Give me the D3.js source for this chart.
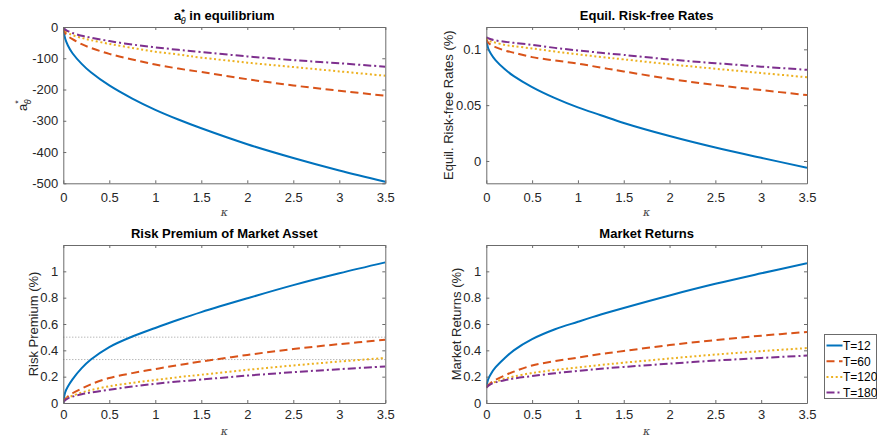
<!DOCTYPE html>
<html>
<head>
<meta charset="utf-8">
<script src="https://cdn.jsdelivr.net/npm/d3@7"></script>
<style>
  body { margin: 0; background: #fff; }
  text { font-family: "Liberation Sans", Arial, sans-serif; }
</style>
</head>
<body>
<div id="chart"></div>
<script>
var width = 877,
    height = 442;

// kappa grid (x values shared by every panel)
var kappa = [0, 0.02, 0.05, 0.1, 0.2, 0.3, 0.5, 0.75, 1, 1.25, 1.5, 2, 2.5, 3, 3.5];
var xTicks = [0, 0.5, 1, 1.5, 2, 2.5, 3, 3.5];

var seriesNames = ["T=12", "T=60", "T=120", "T=180"];

// a*_theta in equilibrium
var aStar12  = [0, -37, -59, -84, -118, -145, -187, -229, -265, -296, -324, -375, -419, -459, -495];
var aStar60  = [0, -19, -29, -39, -55, -67, -86, -104, -120, -133, -144, -167, -187, -204, -220];
var aStar120 = [0, -10, -18, -26, -35, -42, -54, -67, -79, -88, -98, -114, -128, -142, -156];
var aStar180 = [0, -8, -13, -19, -28, -34, -45, -56, -65, -73, -80, -94, -106, -116, -127];

// equilibrium risk-free rates (%)
var rf12  = [0.110, 0.101, 0.096, 0.0903, 0.0823, 0.076, 0.0662, 0.0563, 0.048, 0.041, 0.034, 0.0223, 0.012, 0.0028, -0.006];
var rf60  = [0.110, 0.106, 0.104, 0.102, 0.099, 0.097, 0.093, 0.090, 0.0872, 0.0836, 0.0802, 0.0736, 0.068, 0.0635, 0.059];
var rf120 = [0.110, 0.108, 0.107, 0.106, 0.104, 0.1028, 0.1008, 0.098, 0.0955, 0.0932, 0.091, 0.0866, 0.0826, 0.0788, 0.075];
var rf180 = [0.111, 0.110, 0.109, 0.108, 0.1068, 0.1058, 0.104, 0.1013, 0.099, 0.0969, 0.095, 0.0909, 0.0876, 0.0845, 0.0816];

// risk premium of market asset (%)
var rp12  = [0, 0.08, 0.125, 0.18, 0.265, 0.33, 0.425, 0.505, 0.57, 0.632, 0.69, 0.795, 0.895, 0.985, 1.068];
var rp60  = [0.01, 0.03, 0.05, 0.074, 0.11, 0.142, 0.19, 0.227, 0.258, 0.288, 0.315, 0.365, 0.41, 0.447, 0.48];
var rp120 = [0.01, 0.025, 0.04, 0.055, 0.08, 0.098, 0.127, 0.153, 0.175, 0.196, 0.215, 0.252, 0.285, 0.315, 0.342];
var rp180 = [0.005, 0.02, 0.035, 0.048, 0.066, 0.08, 0.101, 0.125, 0.146, 0.163, 0.178, 0.208, 0.234, 0.257, 0.278];
var rpRefLines = [0.5, 0.33];

// market returns (%)
var mr12  = [0.12, 0.18, 0.221, 0.27, 0.34, 0.40, 0.485, 0.56, 0.617, 0.672, 0.722, 0.817, 0.905, 0.985, 1.062];
var mr60  = [0.12, 0.136, 0.154, 0.176, 0.209, 0.238, 0.285, 0.318, 0.345, 0.372, 0.395, 0.44, 0.478, 0.511, 0.539];
var mr120 = [0.12, 0.133, 0.147, 0.161, 0.184, 0.201, 0.228, 0.251, 0.27, 0.289, 0.306, 0.338, 0.368, 0.394, 0.417];
var mr180 = [0.116, 0.13, 0.144, 0.156, 0.173, 0.186, 0.205, 0.226, 0.244, 0.26, 0.274, 0.299, 0.322, 0.342, 0.36];

var colors = ["#0072BD", "#D95319", "#EDB120", "#7E2F8E"];
var dashes = [null, "8,4.5", "2,2.6", "8,3,2,3"];

var svg = d3.select("#chart").append("svg")
  .attr("width", width)
  .attr("height", height);

var fmt = function(d) { return String(d); };

function drawPanel(o) {
  var x = d3.scaleLinear().domain([0, 3.5]).range([o.left, o.right]);
  var y = d3.scaleLinear().domain(o.yDomain).range([o.bottom, o.top]);
  var g = svg.append("g");

  var clipId = "clip" + o.id;
  svg.append("clipPath").attr("id", clipId).append("rect")
    .attr("x", o.left).attr("y", o.top)
    .attr("width", o.right - o.left).attr("height", o.bottom - o.top);

  // reference lines (dotted)
  (o.refLines || []).forEach(function(v) {
    g.append("line")
      .attr("x1", o.left).attr("x2", o.right)
      .attr("y1", y(v)).attr("y2", y(v))
      .style("stroke", "#9a9a9a")
      .style("stroke-width", 1)
      .style("stroke-dasharray", "1,2");
  });

  var line = d3.line()
    .curve(d3.curveCatmullRom.alpha(0.5))
    .x(function(d, i) { return x(kappa[i]); })
    .y(function(d) { return y(d); });

  var lg = g.append("g").attr("clip-path", "url(#" + clipId + ")");
  o.series.forEach(function(s, i) {
    lg.append("path")
      .datum(s)
      .attr("d", line)
      .style("fill", "none")
      .style("stroke", colors[i])
      .style("stroke-width", 2)
      .style("stroke-dasharray", dashes[i]);
  });

  // axes, ticks pointing inward, box on
  var axisColor = "#6b6b6b";
  var bottomAx = g.append("g")
    .attr("transform", "translate(0," + o.bottom + ")")
    .call(d3.axisBottom(x).tickValues(xTicks).tickSize(-3).tickSizeOuter(0).tickPadding(o.xPad).tickFormat(fmt));
  var topAx = g.append("g")
    .attr("transform", "translate(0," + o.top + ")")
    .call(d3.axisTop(x).tickValues(xTicks).tickSize(-3).tickSizeOuter(0).tickFormat(""));
  var leftAx = g.append("g")
    .attr("transform", "translate(" + o.left + ",0)")
    .call(d3.axisLeft(y).tickValues(o.yTicks).tickSize(-3).tickSizeOuter(0).tickPadding(5).tickFormat(fmt));
  var rightAx = g.append("g")
    .attr("transform", "translate(" + o.right + ",0)")
    .call(d3.axisRight(y).tickValues(o.yTicks).tickSize(-3).tickSizeOuter(0).tickFormat(""));

  [bottomAx, topAx, leftAx, rightAx].forEach(function(a) {
    a.select(".domain").style("stroke", axisColor);
    a.selectAll(".tick line").style("stroke", axisColor);
    a.selectAll("text")
      .style("font-size", "13px")
      .style("fill", "#262626");
  });

  // title
  var t = g.append("text")
    .attr("x", (o.left + o.right) / 2)
    .attr("y", o.top - 7)
    .attr("text-anchor", "middle")
    .style("font-size", "13px")
    .style("font-weight", "bold")
    .style("fill", "#000");
  o.title(t);

  // x label
  g.append("text")
    .attr("x", (o.left + o.right) / 2)
    .attr("y", o.bottom + o.xLabelDy)
    .attr("text-anchor", "middle")
    .style("font-family", "'DejaVu Serif', serif")
    .style("font-style", "italic")
    .style("font-size", "11px")
    .style("fill", "#444")
    .text("κ");

  // y label
  var yl = g.append("text")
    .attr("transform", "translate(" + o.yLabelX + "," + ((o.top + o.bottom) / 2) + ") rotate(-90)")
    .attr("text-anchor", "middle")
    .style("font-size", "13px")
    .style("fill", "#262626");
  o.yLabel(yl);
}

drawPanel({
  id: 1, left: 63.3, right: 385.3, top: 27, bottom: 183.3,
  yDomain: [-500, 0], yTicks: [-500, -400, -300, -200, -100, 0],
  series: [aStar12, aStar60, aStar120, aStar180],
  xPad: 9, xLabelDy: 33,
  yLabelX: 27,
  title: function(t) {
    t.append("tspan").text("a");
    t.append("tspan").attr("dy", -5).style("font-size", "9px").text("*");
    t.append("tspan").attr("dx", -4).attr("dy", 9).style("font-size", "9px").style("font-weight", "normal").style("font-style", "italic").text("θ");
    t.append("tspan").attr("dy", -4).text(" in equilibrium");
  },
  yLabel: function(t) {
    t.append("tspan").text("a");
    t.append("tspan").attr("dy", -6).style("font-size", "9px").text("*");
    t.append("tspan").attr("dx", -4).attr("dy", 10).style("font-size", "9px").style("font-style", "italic").text("θ");
  }
});

drawPanel({
  id: 2, left: 486.3, right: 807, top: 27, bottom: 183.3,
  yDomain: [-0.02, 0.12], yTicks: [0, 0.05, 0.1],
  series: [rf12, rf60, rf120, rf180],
  xPad: 9, xLabelDy: 33,
  yLabelX: 453,
  title: function(t) { t.text("Equil. Risk-free Rates"); },
  yLabel: function(t) { t.text("Equil. Risk-free Rates (%)"); }
});

drawPanel({
  id: 3, left: 63.3, right: 385.3, top: 245, bottom: 403,
  yDomain: [0, 1.2], yTicks: [0, 0.2, 0.4, 0.6, 0.8, 1],
  series: [rp12, rp60, rp120, rp180],
  refLines: rpRefLines,
  xPad: 7, xLabelDy: 32,
  yLabelX: 38,
  title: function(t) { t.text("Risk Premium of Market Asset"); },
  yLabel: function(t) { t.text("Risk Premium (%)"); }
});

drawPanel({
  id: 4, left: 486.3, right: 807, top: 245, bottom: 403,
  yDomain: [0, 1.2], yTicks: [0, 0.2, 0.4, 0.6, 0.8, 1],
  series: [mr12, mr60, mr120, mr180],
  xPad: 7, xLabelDy: 32,
  yLabelX: 461,
  title: function(t) { t.text("Market Returns"); },
  yLabel: function(t) { t.text("Market Returns (%)"); }
});

// legend
var legend = svg.append("g").attr("transform", "translate(824.5,334.5)");
legend.append("rect")
  .attr("width", 52)
  .attr("height", 64)
  .style("fill", "#fff")
  .style("stroke", "#6b6b6b")
  .style("stroke-width", 1);

seriesNames.forEach(function(name, i) {
  var yy = 11 + i * 15.7;
  legend.append("line")
    .attr("x1", 2).attr("x2", 18)
    .attr("y1", yy).attr("y2", yy)
    .style("stroke", colors[i])
    .style("stroke-width", 2)
    .style("stroke-dasharray", dashes[i]);
  legend.append("text")
    .attr("x", 18.5)
    .attr("y", yy + 4.3)
    .style("font-size", "12px")
    .style("fill", "#000")
    .text(name);
});
</script>
</body>
</html>
